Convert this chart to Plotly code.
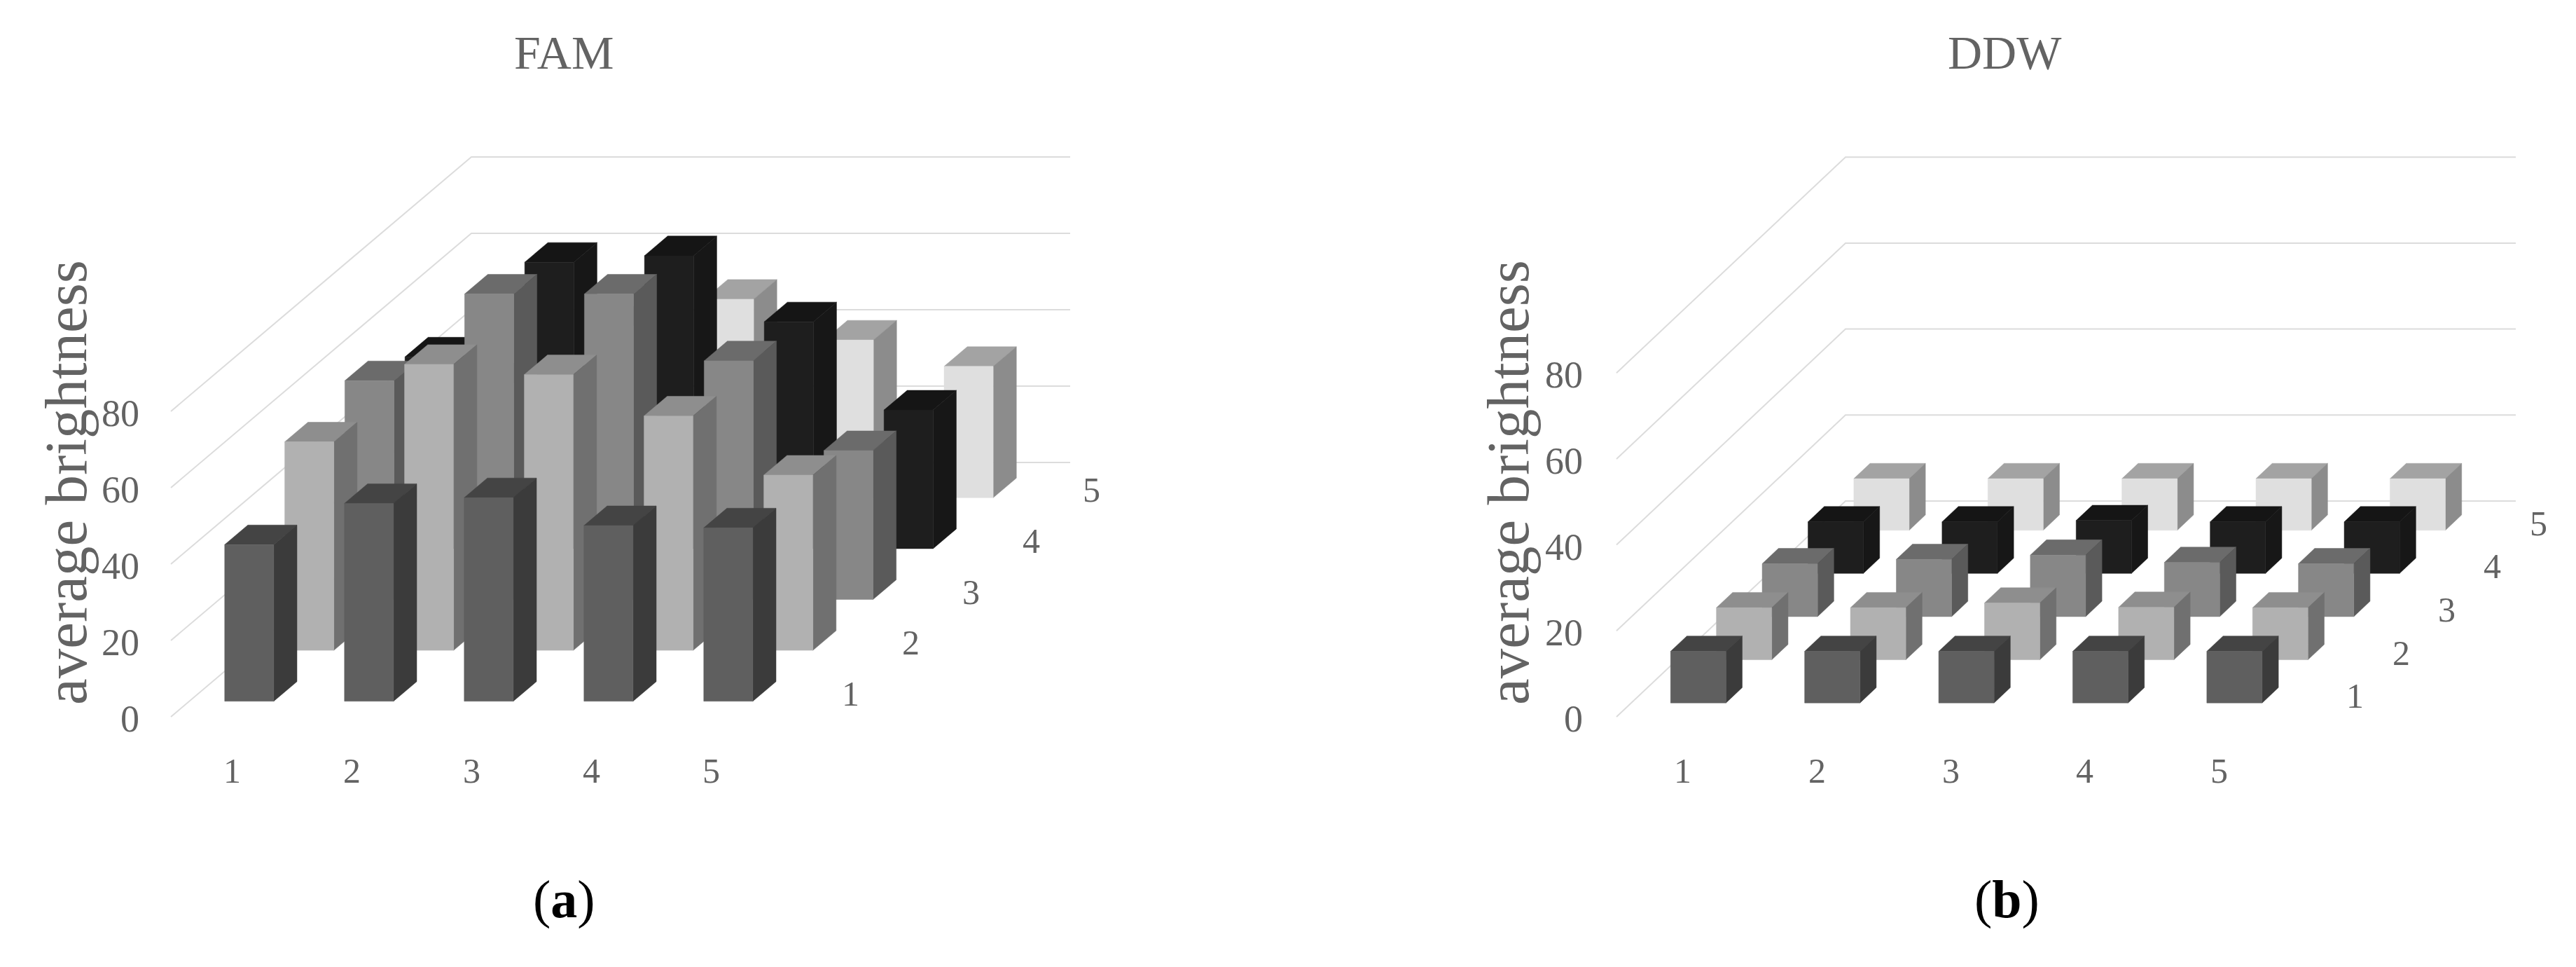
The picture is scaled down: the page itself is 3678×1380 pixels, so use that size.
import plotly.graph_objects as go

# ---------- data ----------
categories = ["1", "2", "3", "4", "5"]
series_names = ["1", "2", "3", "4", "5"]
value_ticks = [0, 20, 40, 60, 80]

fam_row1 = [41.0, 51.8, 53.3, 46.0, 45.4]
fam_row2 = [54.6, 74.9, 72.2, 61.4, 45.9]
fam_row3 = [57.3, 80.0, 80.0, 62.5, 39.0]
fam_row4 = [50.2, 75.0, 76.7, 59.4, 36.3]
fam_row5 = [30.0, 45.0, 52.0, 41.3, 34.4]

ddw_row1 = [12.0, 12.0, 12.0, 12.0, 12.0]
ddw_row2 = [12.1, 12.1, 13.2, 12.2, 12.1]
ddw_row3 = [12.3, 13.3, 14.3, 12.6, 12.3]
ddw_row4 = [12.0, 12.0, 12.3, 12.0, 12.0]
ddw_row5 = [12.0, 12.0, 12.0, 12.0, 12.0]

fam_rows = [fam_row1, fam_row2, fam_row3, fam_row4, fam_row5]
ddw_rows = [ddw_row1, ddw_row2, ddw_row3, ddw_row4, ddw_row5]

# front, top, side shade of each series
row_colors = [
    ("#5f5f5f", "#444444", "#3b3b3b"),
    ("#b1b1b1", "#8e8e8e", "#707070"),
    ("#878787", "#6b6b6b", "#5a5a5a"),
    ("#1e1e1e", "#151515", "#171717"),
    ("#dfdfdf", "#a3a3a3", "#8c8c8c"),
]

GRID = "#dcdcdc"
TEXT = "#636363"
SERIF = "Liberation Serif"

fig = go.Figure()


def add_panel(rows, title, tag, ox, oy, col_w, row_dx, row_dy, unit, bar_w, bar_d,
              xa, ya, tick_right, ytitle_x, tag_x, title_x, depth_shift, depth_yshift, cat_shift):
    def proj(c, r, v):
        return ox + col_w * c + row_dx * r, oy - row_dy * r - unit * v

    # gridlines: left wall diagonals and back wall horizontals
    gx, gy = [], []
    for v in value_ticks:
        for c, r in [(0, 0), (0, 5), (5, 5)]:
            px, py = proj(c, r, v)
            gx.append(px)
            gy.append(py)
        gx.append(None)
        gy.append(None)
    fig.add_trace(go.Scatter(x=gx, y=gy, mode="lines", line=dict(color=GRID, width=2),
                             hoverinfo="skip", showlegend=False, xaxis=xa, yaxis=ya))

    # bars, back row first
    gap_c = (1 - bar_w) / 2
    gap_r = (1 - bar_d) / 2
    for r in range(4, -1, -1):
        front, top, side = row_colors[r]
        faces = {"top": ([], []), "side": ([], []), "front": ([], [])}
        for c, v in enumerate(rows[r]):
            c0, c1 = c + gap_c, c + gap_c + bar_w
            r0, r1 = r + gap_r, r + gap_r + bar_d
            polys = {
                "front": [(c0, r0, 0), (c1, r0, 0), (c1, r0, v), (c0, r0, v)],
                "side": [(c1, r0, 0), (c1, r1, 0), (c1, r1, v), (c1, r0, v)],
                "top": [(c0, r0, v), (c1, r0, v), (c1, r1, v), (c0, r1, v)],
            }
            for name, pts in polys.items():
                for p in pts + [pts[0]]:
                    px, py = proj(*p)
                    faces[name][0].append(px)
                    faces[name][1].append(py)
                faces[name][0].append(None)
                faces[name][1].append(None)
        for name, color in (("top", top), ("side", side), ("front", front)):
            fig.add_trace(go.Scatter(x=faces[name][0], y=faces[name][1], mode="lines",
                                     fill="toself", fillcolor=color,
                                     line=dict(color=color, width=0.5),
                                     hoverinfo="skip", showlegend=False, xaxis=xa, yaxis=ya))

    def note(x, y, text, size, color=TEXT, angle=0, anchor="center"):
        fig.add_annotation(x=x, y=y, xref=xa, yref=ya, text=text, showarrow=False, xanchor=anchor,
                           font=dict(family=SERIF, size=size, color=color), textangle=angle)

    for v in value_ticks:
        note(tick_right, proj(0, 0, v)[1] + 3, str(v), 54, anchor="right")
    for c, lab in enumerate(categories):
        px, py = proj(c + 0.5, 0, 0)
        note(px + cat_shift, py + 77, lab, 50)
    for r, lab in enumerate(series_names):
        px, py = proj(5, r + 0.5, 0)
        note(px + depth_shift, py + depth_yshift, lab, 50)

    note(title_x, 75, title, 68)
    note(ytitle_x, 689, "average brightness", 85, angle=-90)
    note(tag_x, 1283, "(<b>%s</b>)" % tag, 76, color="#000000")


add_panel(fam_rows, "FAM", "a", 244, 1023, 171, 85.8, 72.6, 5.45, 0.41, 0.386,
          "x", "y", 201, 94, 805, 805, 73, 3, 2)
add_panel(ddw_rows, "DDW", "b", 2308, 1023, 191.4, 65.4, 61.6, 6.135, 0.413, 0.355,
          "x2", "y2", 2262, 2153, 2865, 2862, 65, 1, -1)

fig.update_layout(
    width=3678, height=1380, margin=dict(l=0, r=0, t=0, b=0),
    paper_bgcolor="white", plot_bgcolor="white", showlegend=False,
    xaxis=dict(domain=[0, 0.5], range=[0, 1839], visible=False, fixedrange=True),
    yaxis=dict(domain=[0, 1], range=[1380, 0], visible=False, fixedrange=True),
    xaxis2=dict(domain=[0.5, 1], range=[1839, 3678], visible=False, fixedrange=True),
    yaxis2=dict(domain=[0, 1], range=[1380, 0], visible=False, fixedrange=True, anchor="x2"),
)

fig.write_html("out.html", config={"displayModeBar": False},
               post_script="document.body.style.margin='0';document.body.style.overflow='hidden';")
